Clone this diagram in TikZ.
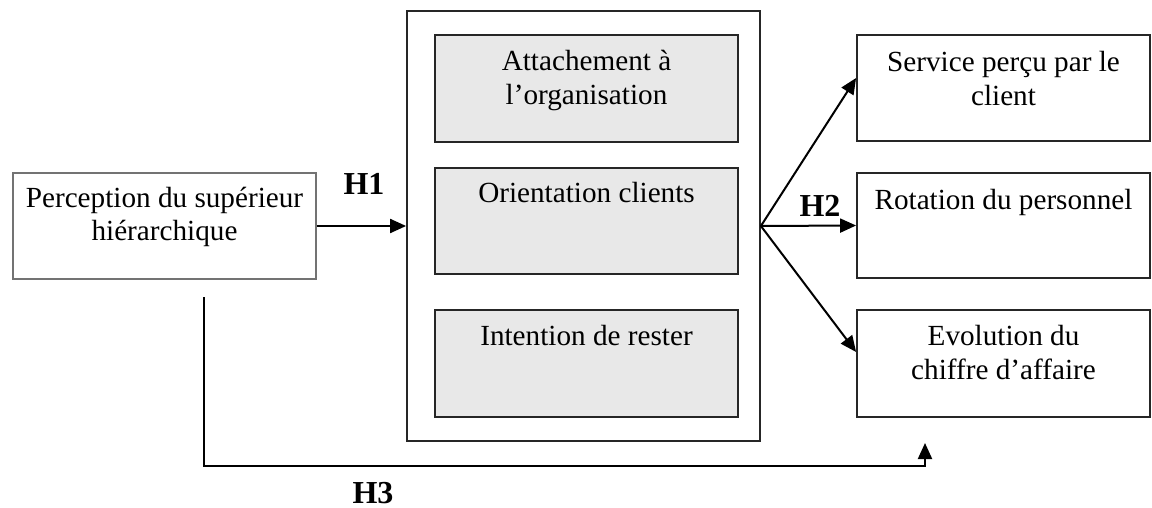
\documentclass[tikz,border=0pt]{standalone}
\usepackage{fontspec}
\setmainfont{Liberation Serif}
\usetikzlibrary{arrows.meta}
\newcommand{\ml}[1]{\begin{tabular}[t]{@{}c@{}}#1\end{tabular}}
\begin{document}
\begin{tikzpicture}[x=0.5pt,y=-0.5pt,
  every node/.style={font=\fontsize{14.6}{17}\selectfont},
  plainbox/.style={draw=black!85,line width=0.9pt,rectangle,inner sep=0pt},
  graybox/.style={plainbox,fill=black!9},
  lbl/.style={anchor=base,inner sep=0pt},
  hlbl/.style={anchor=base,inner sep=0pt,font=\fontsize{16}{17}\selectfont\bfseries},
  arr/.style={line width=1pt,-{Triangle[length=8pt,width=7pt]}},
  ln/.style={line width=1pt}]
\useasboundingbox (0,0) rectangle (1152,508);
% left box
\node[plainbox,draw=black!55,line width=0.6pt,minimum width=151.5pt,minimum height=53pt] (p) at (164.5,226) {};
\node[lbl] (pt) at (164.5,207) {\ml{Perception du supérieur\\hiérarchique}};
% big box
\node[plainbox,minimum width=176.5pt,minimum height=215pt] (big) at (583.5,226) {};
% gray boxes
\node[graybox,minimum width=151.5pt,minimum height=53.5pt] (g1) at (586.5,88.5) {};
\node[lbl] (g1t) at (586.5,71) {\ml{Attachement à\\l’organisation}};
\node[graybox,minimum width=151.5pt,minimum height=53pt] (g2) at (586.5,221) {};
\node[lbl] (g2t) at (586.5,203) {Orientation clients};
\node[graybox,minimum width=151.5pt,minimum height=53.5pt] (g3) at (586.5,363.5) {};
\node[lbl] (g3t) at (586.5,345) {Intention de rester};
% right boxes
\node[plainbox,minimum width=146.5pt,minimum height=53pt] (r1) at (1003.5,88) {};
\node[lbl] (r1t) at (1003.5,72) {\ml{Service perçu par le\\client}};
\node[plainbox,minimum width=146.5pt,minimum height=52.5pt] (r2) at (1003.5,225.5) {};
\node[lbl] (r2t) at (1003.5,210) {Rotation du personnel};
\node[plainbox,minimum width=146.5pt,minimum height=53.5pt] (r3) at (1003.5,363.5) {};
\node[lbl] (r3t) at (1003.5,345) {\ml{Evolution du\\chiffre d’affaire}};
% labels
\node[hlbl] (h1) at (364,194) {H1};
\node[hlbl] (h2) at (820,216) {H2};
\node[hlbl] (h3) at (373,503) {H3};
% connectors
\draw[arr] (p.east) -- (big.west);
\draw[arr] (big.east) -- ([yshift=5pt]r1.west);
\draw[arr] (big.east) -- (r2.west);
\draw[arr] (big.east) -- ([yshift=5.75pt]r3.west);
\coordinate (s) at (204,297);
\coordinate (c1) at (204,466);
\coordinate (c2) at (925,466);
\coordinate (e) at (925,443);
\draw[arr] (s) -- (c1) -- (c2) -- (e);
\end{tikzpicture}
\end{document}
